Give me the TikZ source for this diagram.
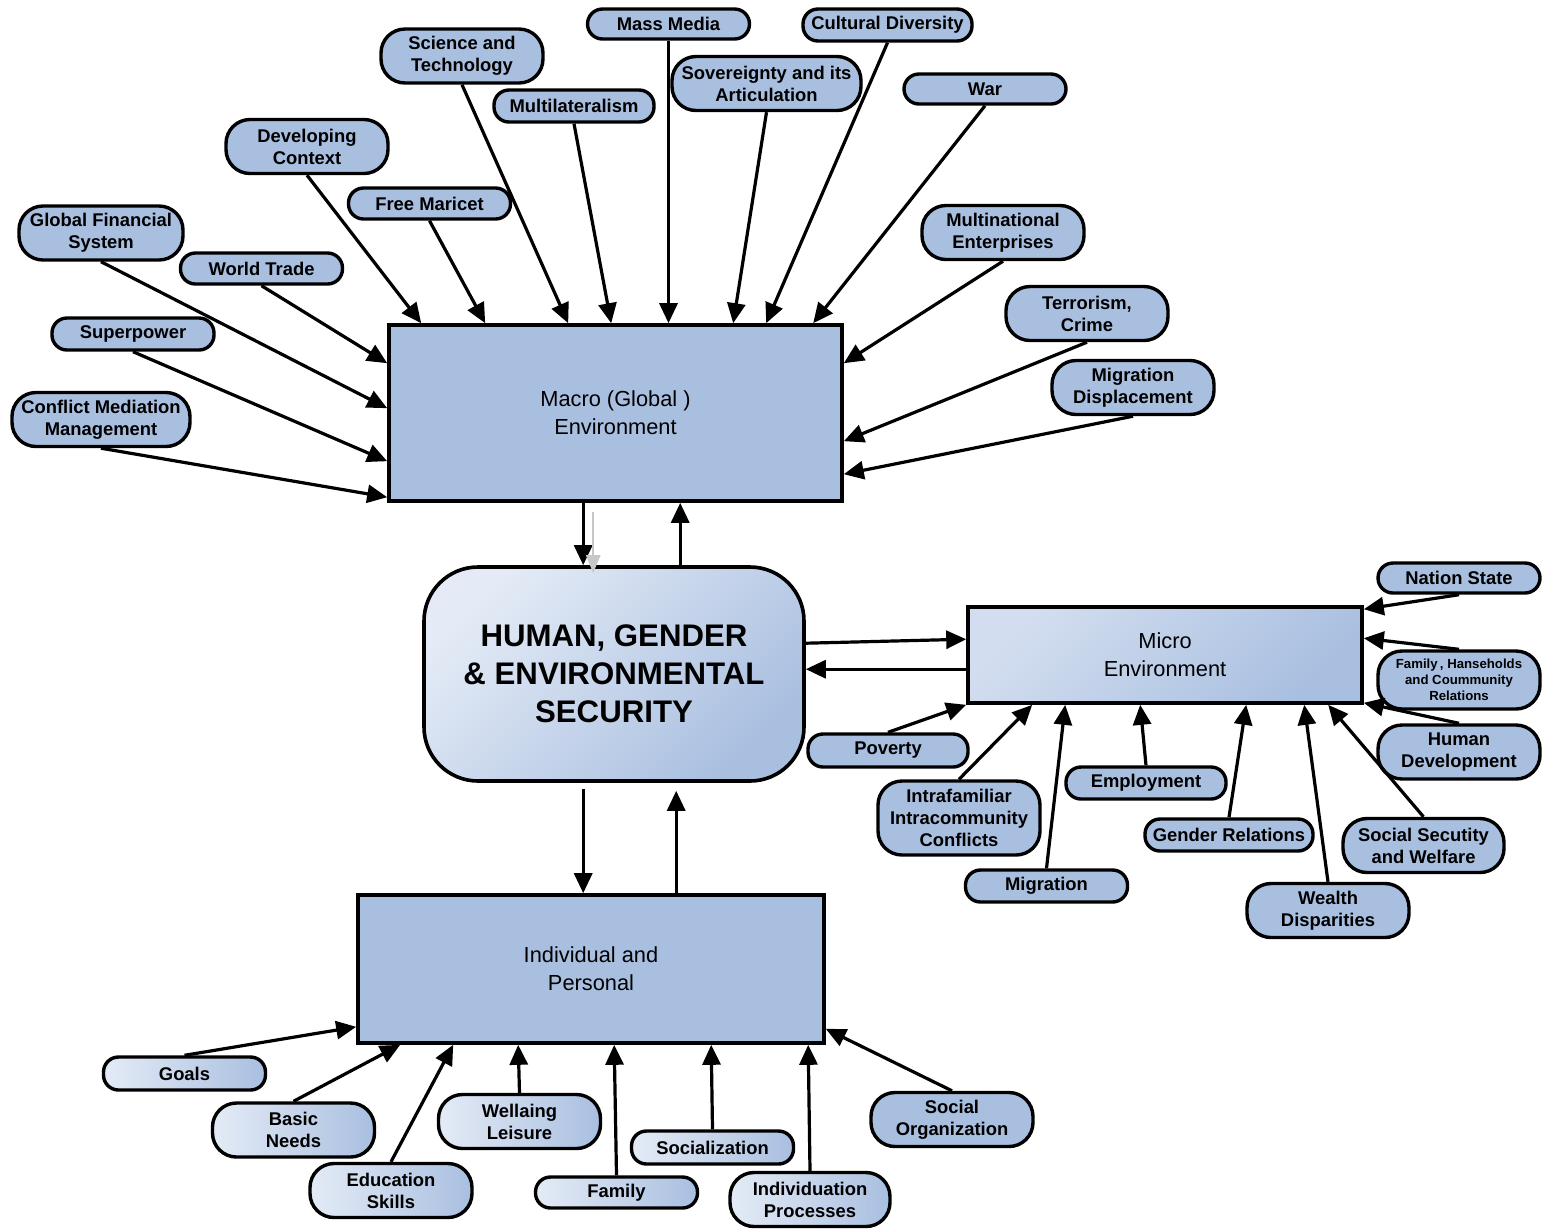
\documentclass[tikz,border=0pt]{standalone}
\usepackage{fontspec}
\setmainfont{Liberation Sans}
\usetikzlibrary{arrows.meta,calc}
\definecolor{boxblue}{RGB}{169,191,224}
\definecolor{paleblue}{RGB}{228,235,246}
\begin{document}
\begin{tikzpicture}[x=0.5pt,y=-0.5pt,
  lbl/.style={draw=black, line width=1.7pt, fill=boxblue, align=center, inner sep=0pt,
    font=\bfseries\fontsize{9.2}{11}\selectfont, minimum width=81pt},
  pilla/.style={lbl, minimum height=15.5pt, rounded corners=7.5pt},
  pillb/.style={lbl, minimum height=27pt, rounded corners=12pt},
  fade/.style={left color=paleblue, right color=boxblue},
  arr/.style={line width=1.6pt, -{Triangle[length=10pt,width=9pt]}},
  bigbox/.style={draw=black, line width=1.8pt, fill=boxblue, align=center, inner sep=0pt,
    font=\fontsize{10.9}{14}\selectfont}]
\useasboundingbox (0,0) rectangle (1542,1228);

% ---- main boxes ----
\node[bigbox, minimum width=226.5pt, minimum height=88pt] (macro) at (615.5,413) {Macro (Global )\\Environment};
\node[draw=black, line width=1.8pt, rounded corners=27pt, minimum width=190pt, minimum height=107pt,
  top color=paleblue, bottom color=boxblue, shading angle=45, align=center, inner sep=0pt,
  font=\bfseries\fontsize{15.6}{19}\selectfont] (central) at (614,674) {HUMAN, GENDER\\\& ENVIRONMENTAL\\SECURITY};
\node[bigbox, minimum width=197pt, minimum height=48pt, top color=paleblue!70!boxblue, bottom color=boxblue,
  shading angle=45] (micro) at (1165,655) {Micro\\Environment};
\node[bigbox, minimum width=233pt, minimum height=74pt] (indiv) at (591,969) {Individual and\\Personal};

% ---- global factors ----
\node[pillb] (scitech) at (462,56) {Science and\\Technology};
\node[pilla, minimum height=15pt] (massmedia) at (668.5,24) {Mass Media};
\node[pilla, minimum width=84.5pt, minimum height=16pt] (cultdiv) at (887.5,25) {Cultural Diversity};
\node[pilla, minimum width=80pt, minimum height=16pt] (multilat) at (574,106) {Multilateralism};
\node[pillb, minimum width=94.5pt] (sovereign) at (766.5,83.5) {Sovereignty and its\\Articulation};
\node[pilla, minimum height=15pt] (war) at (985,89) {War};
\node[pillb] (devctx) at (307,146.5) {Developing\\Context};
\node[pilla] (freemkt) at (429.5,203.5) {Free Maricet};
\node[pillb, minimum width=82pt] (globfin) at (101,233) {Global Financial\\System};
\node[pilla] (worldtrade) at (261.5,268.5) {World Trade};
\node[pillb] (multinat) at (1003,232.5) {Multinational\\Enterprises};
\node[pillb] (terror) at (1087,313.5) {Terrorism,\\Crime};
\node[pilla, minimum height=16pt] (superpower) at (133,334) {Superpower};
\node[pillb] (migdisp) at (1133,387.5) {Migration\\Displacement};
\node[pillb, minimum width=89pt] (conflict) at (101,419.5) {Conflict Mediation\\Management};

% ---- micro factors ----
\node[pilla, minimum height=15pt] (nation) at (1459,578) {Nation State};
\node[pillb, minimum height=29pt, font=\bfseries\fontsize{6.6}{8}\selectfont] (famhouse) at (1459,680)
  {Family\,, Hanseholds\\and Coummunity\\Relations};
\node[pillb] (humdev) at (1459,752) {Human\\Development};
\node[pillb, minimum width=80.5pt] (socsec) at (1423.5,845.5) {Social Secutity\\and Welfare};
\node[pillb] (wealth) at (1328,910.5) {Wealth\\Disparities};
\node[pilla, minimum width=84pt, minimum height=16pt] (gender) at (1229,835) {Gender Relations};
\node[pilla, minimum width=80pt, minimum height=16pt] (employ) at (1146,783) {Employment};
\node[pilla, minimum height=16pt] (migration) at (1046.5,886) {Migration};
\node[pillb, minimum height=37pt] (intrafam) at (959,818) {Intrafamiliar\\Intracommunity\\Conflicts};
\node[pilla, minimum width=80pt, minimum height=16.5pt] (poverty) at (888,750.5) {Poverty};

% ---- individual factors ----
\node[pilla, fade, minimum height=16.5pt] (goals) at (184.5,1073.5) {Goals};
\node[pillb, fade] (basic) at (293.5,1130) {Basic\\Needs};
\node[pillb, fade] (educ) at (391,1190.5) {Education\\Skills};
\node[pillb, fade] (wellaing) at (519.5,1121.5) {Wellaing\\Leisure};
\node[pilla, fade] (family) at (616.5,1192.5) {Family};
\node[pilla, fade, minimum height=16.5pt] (social) at (712.5,1147.5) {Socialization};
\node[pillb, fade, minimum width=80pt] (individ) at (810,1199.5) {Individuation\\Processes};
\node[pillb] (socorg) at (952,1119.5) {Social\\Organization};

% ---- arrows into the macro environment ----
\draw[arr] (devctx.south)    -- ($(macro.north west)+(34,0)$);
\draw[arr] (freemkt.south)   -- ($(macro.north west)+(98,0)$);
\draw[arr] (scitech.south)   -- ($(macro.north west)+(181,0)$);
\draw[arr] (multilat.south)  -- ($(macro.north west)+(224,0)$);
\draw[arr] (massmedia.south) -- (massmedia.south |- macro.north);
\draw[arr] (sovereign.south) -- ($(macro.north west)+(346,0)$);
\draw[arr] (cultdiv.south)   -- ($(macro.north west)+(379,0)$);
\draw[arr] (war.south)       -- ($(macro.north west)+(426,0)$);
\draw[arr] (multinat.south)  -- ($(macro.north east)+(0,40)$);
\draw[arr] (terror.south)    -- ($(macro.north east)+(0,118)$);
\draw[arr] (migdisp.south)   -- ($(macro.north east)+(0,151)$);
\draw[arr] (worldtrade.south) -- ($(macro.north west)+(0,40)$);
\draw[arr] (globfin.south)   -- ($(macro.north west)+(0,85)$);
\draw[arr] (superpower.south) -- ($(macro.north west)+(0,138)$);
\draw[arr] (conflict.south)  -- ($(macro.north west)+(0,174)$);

% ---- macro <-> central ----
\coordinate (m1) at ($(macro.south west)+(196,0)$);
\draw[arr] (m1) -- (m1 |- central.north);
\draw[line width=1.2pt, draw=black!22, -{Triangle[length=9pt,width=7pt,fill=black!22]}]
  ($(macro.south west)+(206,9)$) -- ($(central.north west)+(171,8)$);
\coordinate (c1) at ($(central.north west)+(258,0)$);
\draw[arr] (c1) -- (c1 |- macro.south);

% ---- central <-> micro ----
\draw[arr] ($(central.north east)+(0,78)$) -- ($(micro.north west)+(0,34)$);
\coordinate (k1) at ($(micro.north west)+(4,64)$);
\draw[arr] (k1) -- (k1 -| central.east);

% ---- arrows into the micro environment ----
\draw[arr] (nation.south)    -- ($(micro.north east)+(0,4)$);
\draw[arr] (famhouse.north)  -- ($(micro.north east)+(0,33)$);
\draw[arr] (humdev.north)    -- ($(micro.south east)+(0,-2)$);
\draw[arr] (socsec.north)    -- ($(micro.south west)+(362,0)$);
\draw[arr] (wealth.north)    -- ($(micro.south west)+(338,0)$);
\draw[arr] (gender.north)    -- ($(micro.south west)+(280,0)$);
\draw[arr] (employ.north)    -- ($(micro.south west)+(174,0)$);
\draw[arr] (migration.north) -- ($(micro.south west)+(99,0)$);
\draw[arr] (intrafam.north)  -- ($(micro.south west)+(66,0)$);
\draw[arr] (poverty.north)   -- (micro.south west);

% ---- central <-> individual ----
\coordinate (c2) at ($(central.south west)+(161,6)$);
\draw[arr] (c2) -- (c2 |- indiv.north);
\coordinate (i1) at ($(indiv.north west)+(320,2)$);
\draw[arr] (i1) -- ($(i1 |- central.south)+(0,8)$);

% ---- arrows into the individual level ----
\draw[arr] (goals.north)    -- ($(indiv.south west)+(0,-18)$);
\draw[arr] (basic.north)    -- ($(indiv.south west)+(44,0)$);
\draw[arr] (educ.north)     -- ($(indiv.south west)+(97,0)$);
\draw[arr] (wellaing.north) -- ($(indiv.south west)+(162,0)$);
\draw[arr] (family.north)   -- ($(indiv.south west)+(258,0)$);
\draw[arr] (social.north)   -- ($(indiv.south west)+(355,0)$);
\draw[arr] (individ.north)  -- ($(indiv.south west)+(452,0)$);
\draw[arr] (socorg.north)   -- ($(indiv.south east)+(0,-16)$);
\end{tikzpicture}
\end{document}
